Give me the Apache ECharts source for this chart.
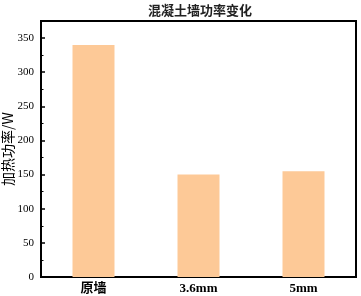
<!DOCTYPE html>
<html><head><meta charset="utf-8">
<script src="https://cdn.jsdelivr.net/npm/echarts@6/dist/echarts.min.js"></script>
<style>html,body{margin:0;padding:0;background:#fff}#c{width:361px;height:296px}</style>
</head><body><div id="c"></div>
<script>
const categories = ['原墙', '3.6mm', '5mm'];
const powerValues = [340, 150, 155];
const chartTitle = '混凝土墙功率变化';
const yAxisName = '加热功率/W';

const serif = '"Liberation Serif", "DejaVu Serif", "Noto Sans CJK SC", serif';
const chart = echarts.init(document.getElementById('c'), null, {renderer: 'canvas'});
chart.setOption({
  animation: false,
  title: {
    text: chartTitle, left: 195, top: -1, textAlign: 'center',
    textStyle: {fontFamily: '"Noto Sans CJK SC"', fontSize: 13, fontWeight: 'bold', color: '#222'}
  },
  grid: {left: 41, right: 5, top: 21, bottom: 19, containLabel: false, outerBoundsMode: 'none',
    show: true, borderColor: '#000', borderWidth: 2, backgroundColor: 'transparent'},
  xAxis: {
    type: 'category', data: categories,
    axisLine: {lineStyle: {color: '#000', width: 2}},
    axisTick: {show: false},
    axisLabel: {color: '#000', fontFamily: serif, fontWeight: 'bold', fontSize: 13, margin: 5},
    splitLine: {show: false}
  },
  yAxis: {
    type: 'value', min: 0, max: 375, interval: 50,
    name: yAxisName, nameLocation: 'middle', nameGap: 26, nameMoveOverlap: false,
    nameTextStyle: {fontFamily: '"Noto Sans CJK SC"', fontSize: 14, color: '#000'},
    axisLine: {show: true, lineStyle: {color: '#000', width: 2}},
    axisTick: {show: true, inside: true, length: 4, lineStyle: {color: '#000', width: 1.5}},
    minorTick: {show: true, splitNumber: 2, length: 2.5, lineStyle: {color: '#000', width: 1}},
    axisLabel: {color: '#000', fontFamily: serif, fontSize: 11, margin: 7,
      formatter: v => (v > 350 ? '' : String(v))},
    splitLine: {show: false}
  },
  series: [{
    type: 'bar', data: powerValues, barWidth: '40%',
    itemStyle: {color: '#FDC997'}
  }]
});
</script></body></html>
